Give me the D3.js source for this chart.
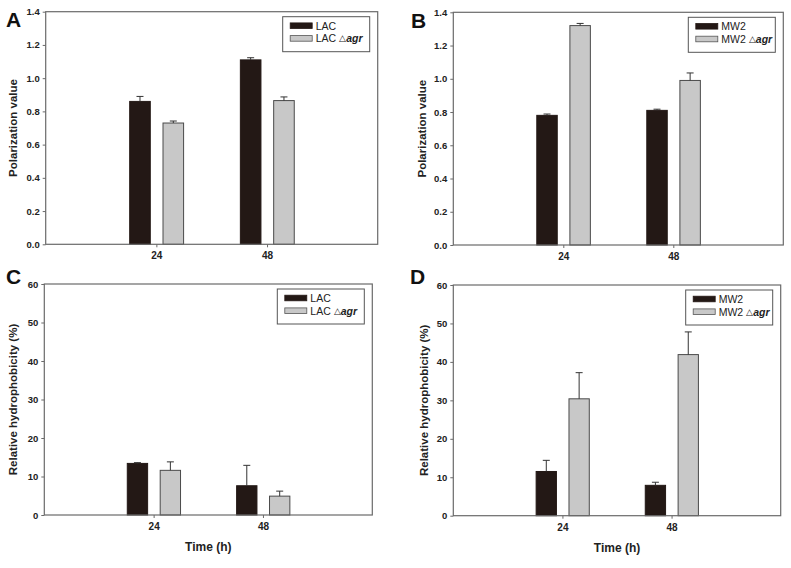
<!DOCTYPE html>
<html>
<head>
<meta charset="utf-8">
<script src="https://cdn.jsdelivr.net/npm/d3@7"></script>
<style>
  body { margin: 0; background: #fff; }
  svg { display: block; }
  text { font-family: "Liberation Sans Narrow", "Arial Narrow", "Liberation Sans", Arial, sans-serif; }
</style>
</head>
<body>
<svg id="chart" width="791" height="568"></svg>
<script>
// ---- Data ----
const timeCategories = [24, 48];
const tickLabelsPolarization = [0.0, 0.2, 0.4, 0.6, 0.8, 1.0, 1.2, 1.4];
const tickLabelsHydro = [0, 10, 20, 30, 40, 50, 60];

const lacPolarization = [0.86, 1.11];
const lacPolarizationErr = [0.03, 0.013];
const lacAgrPolarization = [0.73, 0.865];
const lacAgrPolarizationErr = [0.012, 0.022];

const mw2Polarization = [0.78, 0.81];
const mw2PolarizationErr = [0.008, 0.007];
const mw2AgrPolarization = [1.32, 0.99];
const mw2AgrPolarizationErr = [0.013, 0.045];

const lacHydro = [13.4, 7.6];
const lacHydroErr = [0.2, 5.3];
const lacAgrHydro = [11.6, 4.9];
const lacAgrHydroErr = [2.2, 1.3];

const mw2Hydro = [11.5, 7.9];
const mw2HydroErr = [2.9, 0.8];
const mw2AgrHydro = [30.4, 41.9];
const mw2AgrHydroErr = [6.8, 5.9];

const panelLetters = ["A", "B", "C", "D"];
const strainNames = ["LAC", "MW2"];

// ---- Drawing ----
const svg = d3.select("#chart");
const darkColor = "#231815";
const greyColor = "#c8c8c8";
const frameColor = "#6a6a6a";

const panels = [
  { letter: panelLetters[0], strain: strainNames[0], a: lacPolarization, ae: lacPolarizationErr, b: lacAgrPolarization, be: lacAgrPolarizationErr,
    ticks: tickLabelsPolarization, ymax: 1.4, fmt: d3.format(".1f"), ytitle: "Polarization value", xtitle: false,
    box: { l: 45.7, r: 377.7, t: 11.7, b: 244.3 }, letterPos: [6, 27], ytitleX: 13 },
  { letter: panelLetters[1], strain: strainNames[1], a: mw2Polarization, ae: mw2PolarizationErr, b: mw2AgrPolarization, be: mw2AgrPolarizationErr,
    ticks: tickLabelsPolarization, ymax: 1.4, fmt: d3.format(".1f"), ytitle: "Polarization value", xtitle: false,
    box: { l: 453.3, r: 783.3, t: 12.3, b: 245 }, letterPos: [411, 28], ytitleX: 422 },
  { letter: panelLetters[2], strain: strainNames[0], a: lacHydro, ae: lacHydroErr, b: lacAgrHydro, be: lacAgrHydroErr,
    ticks: tickLabelsHydro, ymax: 60, fmt: d3.format("d"), ytitle: "Relative hydrophobicity (%)", xtitle: true,
    box: { l: 44.3, r: 372.3, t: 284, b: 515 }, letterPos: [6, 284], ytitleX: 13 },
  { letter: panelLetters[3], strain: strainNames[1], a: mw2Hydro, ae: mw2HydroErr, b: mw2AgrHydro, be: mw2AgrHydroErr,
    ticks: tickLabelsHydro, ymax: 60, fmt: d3.format("d"), ytitle: "Relative hydrophobicity (%)", xtitle: true,
    box: { l: 453.3, r: 780.7, t: 285, b: 515.7 }, letterPos: [410, 284], ytitleX: 424 }
];

panels.forEach(p => {
  const g = svg.append("g");
  const B = p.box;
  const x = d3.scaleLinear().domain([0, 72]).range([B.l, B.r]);
  const y = d3.scaleLinear().domain([0, p.ymax]).range([B.b, B.t]);
  const step = x(24) - x(0);
  const barW = 0.186 * step;
  const offA = -0.241 * step;
  const offB = 0.06 * step;

  // bars
  const drawSeries = (vals, errs, off, fill) => {
    timeCategories.forEach((t, i) => {
      const x0 = x(t) + off;
      g.append("rect")
        .attr("x", x0).attr("y", y(vals[i]))
        .attr("width", barW).attr("height", y(0) - y(vals[i]))
        .attr("fill", fill)
        .attr("stroke", fill === darkColor ? darkColor : "#4a4a4a")
        .attr("stroke-width", 1);
      const cx = x0 + barW / 2;
      g.append("line")
        .attr("x1", cx).attr("x2", cx)
        .attr("y1", y(vals[i])).attr("y2", y(vals[i] + errs[i]))
        .attr("stroke", "#333").attr("stroke-width", 1);
      g.append("line")
        .attr("x1", cx - 3.5).attr("x2", cx + 3.5)
        .attr("y1", y(vals[i] + errs[i])).attr("y2", y(vals[i] + errs[i]))
        .attr("stroke", "#333").attr("stroke-width", 1);
    });
  };
  drawSeries(p.a, p.ae, offA, darkColor);
  drawSeries(p.b, p.be, offB, greyColor);

  // frame
  g.append("rect")
    .attr("x", B.l).attr("y", B.t)
    .attr("width", B.r - B.l).attr("height", B.b - B.t)
    .attr("fill", "none").attr("stroke", frameColor).attr("stroke-width", 1.2);

  // y axis
  const yAxis = d3.axisLeft(y).tickValues(p.ticks).tickFormat(p.fmt).tickSize(3).tickPadding(3);
  const ya = g.append("g").attr("transform", `translate(${B.l},0)`).call(yAxis);
  ya.select(".domain").remove();
  ya.selectAll(".tick line").attr("stroke", frameColor);
  ya.selectAll(".tick text").attr("font-size", 9.5).attr("font-weight", "bold").attr("fill", "#222");

  // x axis
  const xAxis = d3.axisBottom(x).tickValues(timeCategories).tickFormat(d3.format("d")).tickSize(3).tickPadding(5);
  const xa = g.append("g").attr("transform", `translate(0,${B.b})`).call(xAxis);
  xa.select(".domain").remove();
  xa.selectAll(".tick line").attr("stroke", frameColor);
  xa.selectAll(".tick text").attr("font-size", 10).attr("font-weight", "bold").attr("fill", "#222");

  // y title
  g.append("text")
    .attr("transform", `translate(${p.ytitleX},${(B.t + B.b) / 2}) rotate(-90)`)
    .attr("text-anchor", "middle").attr("dominant-baseline", "central")
    .attr("font-size", 11.5).attr("font-weight", "bold").attr("fill", "#222")
    .style("font-family", "'Liberation Sans', Arial, sans-serif")
    .text(p.ytitle);

  if (p.xtitle) {
    g.append("text")
      .attr("x", (B.l + B.r) / 2).attr("y", B.b + 36)
      .attr("text-anchor", "middle")
      .attr("font-size", 12).attr("font-weight", "bold").attr("fill", "#222")
      .style("font-family", "'Liberation Sans', Arial, sans-serif")
      .text("Time (h)");
  }

  // panel letter
  g.append("text")
    .attr("x", p.letterPos[0]).attr("y", p.letterPos[1])
    .attr("font-size", 21).attr("font-weight", "bold").attr("fill", "#111")
    .style("font-family", "'Liberation Sans', Arial, sans-serif")
    .text(p.letter);

  // legend
  const lw = 87, lh = 35;
  const lx = B.r - 8 - lw, ly = B.t + 5;
  const lg = g.append("g");
  lg.append("rect").attr("x", lx).attr("y", ly).attr("width", lw).attr("height", lh)
    .attr("fill", "#fff").attr("stroke", "#555").attr("stroke-width", 1);
  const items = [
    { fill: darkColor, stroke: darkColor, agr: false },
    { fill: greyColor, stroke: "#555", agr: true }
  ];
  items.forEach((it, i) => {
    const yy = ly + 9 + i * 12.7;
    lg.append("rect").attr("x", lx + 7.5).attr("y", yy - 2.8)
      .attr("width", 22).attr("height", 5.6)
      .attr("fill", it.fill).attr("stroke", it.stroke).attr("stroke-width", 0.8);
    const t = lg.append("text").attr("x", lx + 33).attr("y", yy)
      .attr("dominant-baseline", "central")
      .attr("font-size", 10.5).attr("fill", "#222")
      .style("font-family", "'Liberation Sans', Arial, sans-serif");
    t.append("tspan").text(p.strain);
    if (it.agr) {
      t.append("tspan").attr("dx", 3).attr("font-size", 9).text("△");
      t.append("tspan").attr("font-style", "italic").attr("font-weight", "bold").text("agr");
    }
  });
});
</script>
</body>
</html>
